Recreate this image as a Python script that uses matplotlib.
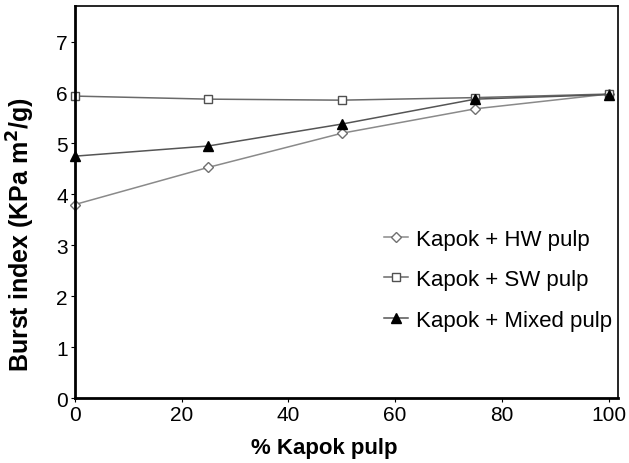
import numpy as np
import matplotlib
matplotlib.use("Agg")
import matplotlib.pyplot as plt

plt.rcParams['font.family'] = ['Liberation Sans', 'DejaVu Sans']

kapok_pct = [0, 25, 50, 75, 100]
hw_burst = [3.80, 4.53, 5.20, 5.68, 5.97]
sw_burst = [5.93, 5.87, 5.85, 5.90, 5.97]
mixed_burst = [4.75, 4.95, 5.38, 5.87, 5.96]

fig = plt.figure(figsize=(6.29, 4.64), dpi=100)
ax = fig.add_axes([0.119, 0.14, 0.863, 0.845])

ax.plot(kapok_pct, hw_burst, color='#8a8a8a', lw=1.1, marker='D', ms=5,
        mfc='white', mec='#707070', mew=1.0, clip_on=False, label='Kapok + HW pulp')
ax.plot(kapok_pct, sw_burst, color='#6a6a6a', lw=1.1, marker='s', ms=6,
        mfc='white', mec='#505050', mew=1.0, clip_on=False, label='Kapok + SW pulp')
ax.plot(kapok_pct, mixed_burst, color='#555555', lw=1.1, marker='^', ms=7,
        mfc='black', mec='black', clip_on=False, label='Kapok + Mixed pulp')

ax.set_xlim(0, 101.7)
ax.set_ylim(0, 7.7)
ax.set_xticks([0, 20, 40, 60, 80, 100])
ax.set_yticks(range(0, 8))
ax.tick_params(labelsize=15, length=3, direction='out', pad=2)
for s in ax.spines.values():
    s.set_linewidth(1.2)
ax.spines['left'].set_linewidth(2)
ax.spines['bottom'].set_linewidth(2)

ax.set_xlabel('% Kapok pulp', fontsize=16, fontweight='bold')
ax.xaxis.set_label_coords(0.46, -0.1)
ax.set_ylabel('Burst index (KPa m$^\\mathbf{2}$/g)', fontsize=18, fontweight='bold')
ax.yaxis.set_label_coords(-0.07, 0.42)

ax.legend(loc='upper left', bbox_to_anchor=(0.553, 0.455), frameon=False,
          fontsize=16, handlelength=1.1, handletextpad=0.35, labelspacing=0.88,
          borderaxespad=0)

fig.savefig('out.png', dpi=100)
